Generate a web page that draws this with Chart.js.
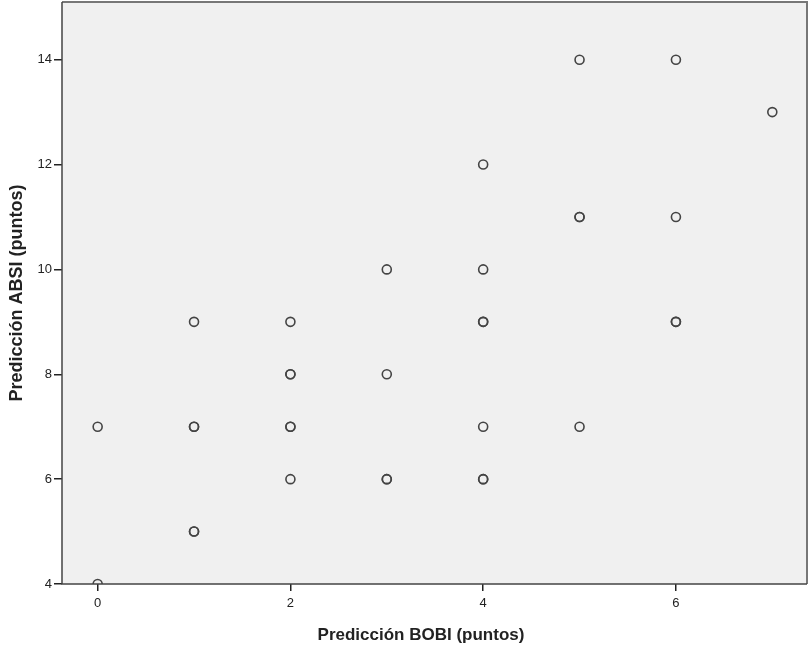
<!DOCTYPE html>
<html>
<head>
<meta charset="utf-8">
<script src="https://cdn.jsdelivr.net/npm/chart.js@4/dist/chart.umd.min.js"></script>
<style>
  html, body { margin: 0; padding: 0; background: #fff; }
  #wrap { width: 808px; height: 648px; }
</style>
</head>
<body>
<div id="wrap"><canvas id="scatterChart" width="808" height="648"></canvas></div>
<script>
// BOBI / ABSI prediction pairs (repeated pairs appear darker in the original)
const bobiValues = [0, 0, 1, 1, 1, 1, 1, 2, 2, 2, 2, 2, 2, 3, 3, 3, 3, 4, 4, 4, 4, 4, 4, 4, 5, 5, 5, 5, 6, 6, 6, 6, 7];
const absiValues = [7, 4, 9, 7, 7, 5, 5, 9, 8, 8, 7, 7, 6, 10, 8, 6, 6, 12, 10, 9, 9, 7, 6, 6, 14, 11, 11, 7, 14, 11, 9, 9, 13];
const xTicks = [0, 2, 4, 6];
const yTicks = [4, 6, 8, 10, 12, 14];
const xTitle = 'Predicción BOBI (puntos)';
const yTitle = 'Predicción ABSI (puntos)';

document.addEventListener('DOMContentLoaded', function() {
    const canvas = document.getElementById('scatterChart');
    const ctx = canvas.getContext('2d');

    const points = bobiValues.map((x, i) => ({ x: x, y: absiValues[i] }));

    const plotFrame = {
        id: 'plotFrame',
        beforeDraw(chart) {
            const a = chart.chartArea;
            const c = chart.ctx;
            c.save();
            c.fillStyle = '#f0f0f0';
            c.fillRect(a.left, a.top, a.right - a.left, a.bottom - a.top);
            c.restore();
        },
        afterDraw(chart) {
            const a = chart.chartArea;
            const c = chart.ctx;
            c.save();
            c.strokeStyle = '#777';
            c.lineWidth = 2;
            c.beginPath();
            c.moveTo(a.left, a.top);
            c.lineTo(a.right, a.top);
            c.lineTo(a.right, a.bottom);
            c.stroke();
            c.strokeStyle = '#444';
            c.lineWidth = 1.5;
            c.beginPath();
            c.moveTo(a.left, a.top);
            c.lineTo(a.left, a.bottom);
            c.lineTo(a.right, a.bottom);
            c.stroke();

            // x axis title, SPSS puts it a bit left of the plot centre
            c.fillStyle = '#222';
            c.font = 'bold 17px Arial, "Liberation Sans", sans-serif';
            c.textAlign = 'center';
            c.textBaseline = 'middle';
            c.fillText(xTitle, 421, 635);
            c.restore();
        }
    };

    new Chart(ctx, {
        type: 'scatter',
        data: {
            datasets: [{
                data: points,
                pointRadius: 4.5,
                pointHoverRadius: 4.5,
                pointBackgroundColor: 'rgba(0,0,0,0)',
                pointBorderColor: '#444',
                pointBorderWidth: 1.6,
                clip: 0
            }]
        },
        options: {
            responsive: false,
            animation: false,
            layout: { autoPadding: false, padding: { top: 2, right: 1, left: 0, bottom: 0 } },
            plugins: {
                legend: { display: false },
                tooltip: { enabled: false }
            },
            scales: {
                x: {
                    type: 'linear',
                    min: -0.37,
                    max: 7.36,
                    afterBuildTicks(scale) {
                        scale.ticks = xTicks.map(v => ({ value: v }));
                    },
                    afterFit(scale) {
                        scale.height = 64;
                        scale.paddingLeft = 0;
                        scale.paddingRight = 0;
                    },
                    grid: {
                        drawOnChartArea: false,
                        drawTicks: true,
                        tickLength: 7,
                        color: '#222',
                        lineWidth: 1.5
                    },
                    border: { display: false },
                    ticks: {
                        color: '#222',
                        padding: 5,
                        font: { family: 'Arial, "Liberation Sans", sans-serif', size: 13 }
                    },
                    title: { display: false }
                },
                y: {
                    type: 'linear',
                    min: 4,
                    max: 15.1,
                    afterBuildTicks(scale) {
                        scale.ticks = yTicks.map(v => ({ value: v }));
                    },
                    afterFit(scale) {
                        scale.width = 62;
                        scale.paddingTop = 0;
                        scale.paddingBottom = 0;
                    },
                    grid: {
                        drawOnChartArea: false,
                        drawTicks: true,
                        tickLength: 8,
                        color: '#222',
                        lineWidth: 1.5
                    },
                    border: { display: false },
                    ticks: {
                        color: '#222',
                        padding: 2,
                        font: { family: 'Arial, "Liberation Sans", sans-serif', size: 13 }
                    },
                    title: {
                        display: true,
                        text: yTitle,
                        color: '#222',
                        padding: { top: 6, bottom: 0 },
                        font: { family: 'Arial, "Liberation Sans", sans-serif', size: 18, weight: 'bold' }
                    }
                }
            }
        },
        plugins: [plotFrame]
    });
});
</script>
</body>
</html>
